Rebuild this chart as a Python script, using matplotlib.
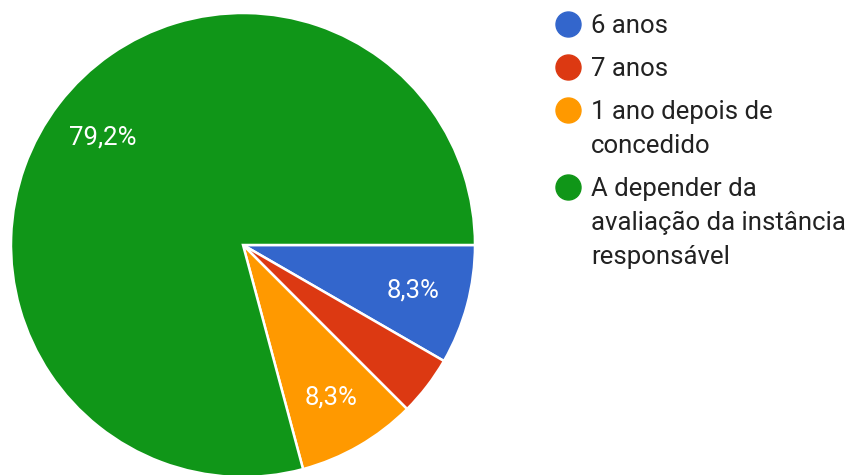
import matplotlib
matplotlib.use("Agg")
import matplotlib.pyplot as plt
from matplotlib.lines import Line2D

plt.rcParams['font.family'] = ['Roboto', 'DejaVu Sans']

categories = ['6 anos', '7 anos', '1 ano depois de\nconcedido',
              'A depender da\navaliação da instância\nresponsável']
counts = [2, 1, 2, 19]
colors = ['#3366cc', '#dc3912', '#ff9900', '#109618']

W, H = 850, 475
cx, cy, r = 243, 245, 232   # pie centre and radius in pixels

fig = plt.figure(figsize=(W / 100, H / 100), dpi=100)
ax = fig.add_axes([0, 0, 1, 1])


def pct_label(p):
    # small slices get no label
    if p < 5:
        return ''
    return ('%.1f%%' % p).replace('.', ',')


wedges, texts, autotexts = ax.pie(
    counts, colors=colors, startangle=0, counterclock=False, radius=1,
    autopct=pct_label, pctdistance=0.76,
    wedgeprops=dict(edgecolor='white', linewidth=1.8),
    textprops=dict(color='white', fontsize=18.5))
ax.set_aspect('auto')
ax.set_xlim(-cx / r, (W - cx) / r)
ax.set_ylim((cy - H) / r, cy / r)
ax.axis('off')

# legend drawn by hand: circle marker + wrapped label (positions in pixels)
lx, tx = 568, 591
base = 33            # baseline of the first legend line
line_h, step = 34, 43
for label, color in zip(categories, colors):
    fig.add_artist(Line2D([lx / W], [1 - (base - 9.5) / H], marker='o',
                          ms=18, color=color, linestyle='none',
                          transform=fig.transFigure))
    lines = label.split('\n')
    for k, line in enumerate(lines):
        fig.text(tx / W, 1 - (base + k * line_h) / H, line, fontsize=18.5,
                 color='#222222', va='baseline', ha='left')
    base += step + (len(lines) - 1) * line_h

fig.savefig('out.png', dpi=100, facecolor='white')
